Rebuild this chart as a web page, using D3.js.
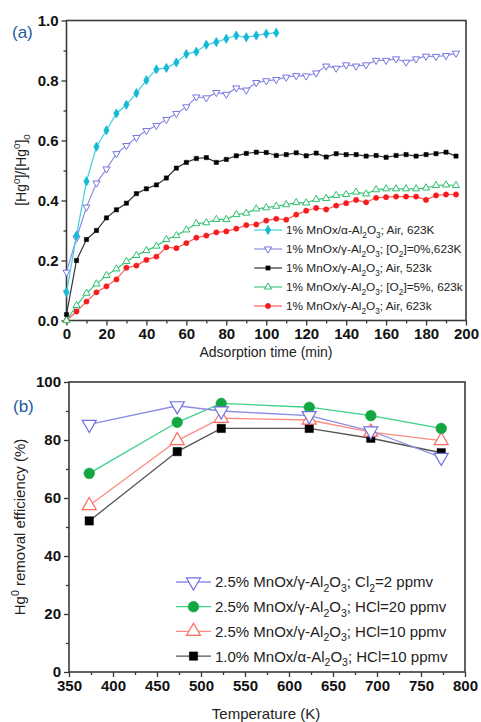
<!DOCTYPE html>
<html>
<head>
<meta charset="utf-8">
<script src="https://cdn.jsdelivr.net/npm/d3@7"></script>
<style>
  body { margin: 0; background: #fff; }
  svg text { font-family: "Liberation Sans", Arial, sans-serif; }
</style>
</head>
<body>
<div id="vis"></div>
<script>
// ---- panel (a) data : adsorption time (min) vs [Hg0]/[Hg0]0
const timeA = [0, 5, 10, 15, 20, 25, 30, 35, 40, 45, 50, 55, 60, 65, 70, 75, 80, 85, 90, 95,
  100, 105, 110, 115, 120, 125, 130, 135, 140, 145, 150, 155, 160, 165, 170, 175, 180, 185, 190, 195];
const alphaAir623 = [0.094, 0.283, 0.464, 0.579, 0.634, 0.69, 0.719, 0.758, 0.801, 0.837, 0.842, 0.86,
  0.888, 0.896, 0.919, 0.928, 0.939, 0.95, 0.944, 0.95, 0.956, 0.959];
const gammaO2zero623 = [0.161, 0.274, 0.378, 0.458, 0.505, 0.556, 0.583, 0.61, 0.633, 0.65, 0.67, 0.69,
  0.712, 0.745, 0.742, 0.76, 0.754, 0.775, 0.768, 0.793, 0.799, 0.803, 0.811, 0.816, 0.815, 0.825,
  0.848, 0.841, 0.852, 0.848, 0.852, 0.867, 0.867, 0.872, 0.861, 0.872, 0.881, 0.88, 0.883, 0.891];
const gammaAir523 = [0.02, 0.2, 0.27, 0.3, 0.342, 0.369, 0.391, 0.423, 0.439, 0.452, 0.475, 0.508,
  0.527, 0.54, 0.543, 0.527, 0.537, 0.549, 0.557, 0.561, 0.56, 0.55, 0.553, 0.559, 0.549, 0.558,
  0.545, 0.556, 0.553, 0.553, 0.548, 0.55, 0.544, 0.55, 0.553, 0.548, 0.553, 0.556, 0.561, 0.548];
const gammaO2five623 = [0.0, 0.05, 0.091, 0.122, 0.15, 0.172, 0.197, 0.217, 0.233, 0.248, 0.27, 0.283,
  0.302, 0.323, 0.326, 0.337, 0.337, 0.353, 0.358, 0.372, 0.376, 0.381, 0.386, 0.393, 0.392, 0.404,
  0.407, 0.417, 0.42, 0.428, 0.422, 0.436, 0.439, 0.439, 0.439, 0.439, 0.442, 0.45, 0.452, 0.45];
const gammaAir623 = [0.0, 0.03, 0.063, 0.094, 0.114, 0.137, 0.176, 0.183, 0.202, 0.213, 0.244, 0.241,
  0.258, 0.276, 0.283, 0.294, 0.297, 0.306, 0.318, 0.32, 0.333, 0.339, 0.336, 0.353, 0.366, 0.375,
  0.37, 0.383, 0.391, 0.402, 0.394, 0.409, 0.411, 0.413, 0.413, 0.413, 0.402, 0.417, 0.42, 0.42];

// ---- panel (b) data : temperature (K) vs removal efficiency (%)
const tempB = [373, 473, 523, 623, 693, 773];
const cl2Gamma25 = [85.4, 91.8, 90.0, 88.4, 83.1, 74.0];
const hcl20Gamma25 = [68.5, 86.1, 92.6, 91.3, 88.4, 84.0];
const hcl10Gamma25 = [57.4, 79.8, 87.5, 86.9, 82.7, 79.8];
const hcl10Alpha10 = [52.1, 76.0, 84.0, 84.0, 80.6, 75.6];

const ticksAx = [0, 20, 40, 60, 80, 100, 120, 140, 160, 180, 200];
const ticksAy = [0.0, 0.2, 0.4, 0.6, 0.8, 1.0];
const ticksBx = [350, 400, 450, 500, 550, 600, 650, 700, 750, 800];
const ticksBy = [0, 20, 40, 60, 80, 100];

// legend labels: [text, 'sub' | 'sup' | '']
const legendA = [
  [['1% MnOx/α-Al', ''], ['2', 'sub'], ['O', ''], ['3', 'sub'], ['; Air, 623K', '']],
  [['1% MnOx/γ-Al', ''], ['2', 'sub'], ['O', ''], ['3', 'sub'], ['; [O', ''], ['2', 'sub'], [']=0%,623K', '']],
  [['1% MnOx/γ-Al', ''], ['2', 'sub'], ['O', ''], ['3', 'sub'], ['; Air, 523k', '']],
  [['1% MnOx/γ-Al', ''], ['2', 'sub'], ['O', ''], ['3', 'sub'], ['; [O', ''], ['2', 'sub'], [']=5%, 623k', '']],
  [['1% MnOx/γ-Al', ''], ['2', 'sub'], ['O', ''], ['3', 'sub'], ['; Air, 623k', '']]
];
const legendB = [
  [['2.5% MnOx/γ-Al', ''], ['2', 'sub'], ['O', ''], ['3', 'sub'], ['; Cl', ''], ['2', 'sub'], ['=2 ppmv', '']],
  [['2.5% MnOx/γ-Al', ''], ['2', 'sub'], ['O', ''], ['3', 'sub'], ['; HCl=20 ppmv', '']],
  [['2.5% MnOx/γ-Al', ''], ['2', 'sub'], ['O', ''], ['3', 'sub'], ['; HCl=10 ppmv', '']],
  [['1.0% MnOx/α-Al', ''], ['2', 'sub'], ['O', ''], ['3', 'sub'], ['; HCl=10 ppmv', '']]
];

const svg = d3.select('#vis').append('svg')
  .attr('width', 481).attr('height', 722);

// text with sub/superscripts, each segment shifted relative to the previous one
function richText(sel, segs, size) {
  let shift = 0;
  segs.forEach(([t, kind]) => {
    const target = kind === 'sub' ? size * 0.3 : kind === 'sup' ? -size * 0.4 : 0;
    const ts = sel.append('tspan').text(t)
      .style('font-size', (kind ? size * 0.7 : size) + 'px');
    if (target !== shift) ts.attr('dy', target - shift);
    shift = target;
  });
}

function styleTicks(g) {
  g.select('.domain').remove();
  g.selectAll('.tick line').attr('stroke', '#333').attr('stroke-width', 1.3);
  g.selectAll('.tick text')
    .style('font-family', '"Liberation Sans", Arial, sans-serif')
    .style('font-size', '15px').style('font-weight', 'bold').attr('fill', '#111');
}

function drawAxes(x, y, xt, yt, xMinor, yMinor, fmt) {
  const [x0, x1] = x.range(), [y0, y1] = y.range();
  svg.append('g').attr('transform', `translate(0,${y0})`)
    .call(d3.axisBottom(x).tickValues(xMinor).tickSize(3).tickFormat(''))
    .call(styleTicks);
  svg.append('g').attr('transform', `translate(0,${y0})`)
    .call(d3.axisBottom(x).tickValues(xt).tickSize(5).tickPadding(3))
    .call(styleTicks);
  svg.append('g').attr('transform', `translate(${x0},0)`)
    .call(d3.axisLeft(y).tickValues(yMinor).tickSize(3).tickFormat(''))
    .call(styleTicks);
  svg.append('g').attr('transform', `translate(${x0},0)`)
    .call(d3.axisLeft(y).tickValues(yt).tickSize(5).tickPadding(3).tickFormat(fmt))
    .call(styleTicks);
  svg.append('rect')
    .attr('x', x0).attr('y', y1).attr('width', x1 - x0).attr('height', y0 - y1)
    .attr('fill', 'none').attr('stroke', '#3a3a3a').attr('stroke-width', 1.6);
}

function drawSeries(x, y, xs, ys, s) {
  const pts = ys.map((v, i) => [xs[i], v]);
  svg.append('path')
    .datum(pts)
    .attr('fill', 'none').attr('stroke', s.line).attr('stroke-width', s.lw)
    .attr('d', d3.line().x(d => x(d[0])).y(d => y(d[1])));
  svg.selectAll(null)
    .data(pts)
    .join('path')
    .attr('transform', d => `translate(${x(d[0])},${y(d[1])})` + (s.rot ? ' rotate(180)' : ''))
    .attr('d', d3.symbol().type(s.sym).size(s.size))
    .attr('fill', s.fill).attr('stroke', s.stroke).attr('stroke-width', s.sw);
}

function drawLegendRow(lx, ly, len, s, label, fs) {
  svg.append('line')
    .attr('x1', lx).attr('x2', lx + len).attr('y1', ly).attr('y2', ly)
    .attr('stroke', s.line).attr('stroke-width', s.lw);
  svg.append('path')
    .attr('transform', `translate(${lx + len / 2},${ly})` + (s.rot ? ' rotate(180)' : ''))
    .attr('d', d3.symbol().type(s.sym).size(s.size))
    .attr('fill', s.fill).attr('stroke', s.stroke).attr('stroke-width', s.sw);
  const t = svg.append('text')
    .attr('x', lx + len + 4).attr('y', ly + fs * 0.36)
    .attr('fill', '#222');
  richText(t, label, fs);
}

// ================= panel (a)
const xA = d3.scaleLinear().domain([0, 200]).range([66.5, 466]);
const yA = d3.scaleLinear().domain([0, 1]).range([320.5, 20.5]);
drawAxes(xA, yA, ticksAx, ticksAy, d3.range(10, 200, 20), [0.1, 0.3, 0.5, 0.7, 0.9], d3.format('.1f'));

const styleA = [
  {line: '#3fd0e0', lw: 1.2, sym: d3.symbolDiamond, size: 24, fill: '#14b9d6', stroke: '#14b9d6', sw: 0.8},
  {line: '#8c8ce6', lw: 1.2, sym: d3.symbolTriangle, rot: true, size: 22, fill: '#fff', stroke: '#7575e0', sw: 1},
  {line: '#333', lw: 1.2, sym: d3.symbolSquare, size: 18, fill: '#000', stroke: '#000', sw: 0.5},
  {line: '#3cc97c', lw: 1.2, sym: d3.symbolTriangle, size: 22, fill: '#fff', stroke: '#2fbf6e', sw: 1},
  {line: '#ff5a5a', lw: 1.2, sym: d3.symbolCircle, size: 22, fill: '#f51d1d', stroke: '#f51d1d', sw: 0.5}
];
const seriesA = [alphaAir623, gammaO2zero623, gammaAir523, gammaO2five623, gammaAir623];
// draw in reverse so the top curves sit over the lower ones
[4, 3, 2, 1, 0].forEach(i => drawSeries(xA, yA, timeA, seriesA[i], styleA[i]));

legendA.forEach((lab, i) => drawLegendRow(254, 230 + i * 19, 28, styleA[i], lab, 11.8));

svg.append('text').attr('x', 12).attr('y', 38)
  .style('font-size', '17px').attr('fill', '#1f5aa0').text('(a)');
svg.append('text').attr('x', 266).attr('y', 357)
  .attr('text-anchor', 'middle').style('font-size', '14px').attr('fill', '#222')
  .text('Adsorption time (min)');
const yTitleA = svg.append('text')
  .attr('transform', 'translate(26,170) rotate(-90)')
  .attr('text-anchor', 'middle').attr('fill', '#222');
richText(yTitleA, [['[Hg', ''], ['0', 'sup'], [']/[Hg', ''], ['0', 'sup'], [']', ''], ['0', 'sub']], 14);

// ================= panel (b)
const xB = d3.scaleLinear().domain([350, 800]).range([69, 465]);
const yB = d3.scaleLinear().domain([0, 100]).range([672, 382]);
drawAxes(xB, yB, ticksBx, ticksBy, d3.range(375, 800, 50), d3.range(10, 100, 20), d3.format('d'));

const styleB = [
  {line: '#8c8ce6', lw: 1.3, sym: d3.symbolTriangle, rot: true, size: 85, fill: '#fff', stroke: '#6f6fe0', sw: 1.2},
  {line: '#3cd08a', lw: 1.3, sym: d3.symbolCircle, size: 90, fill: '#14a640', stroke: '#14a640', sw: 0.5},
  {line: '#ff8a80', lw: 1.3, sym: d3.symbolTriangle, size: 85, fill: '#fff', stroke: '#ff6a60', sw: 1.2},
  {line: '#555', lw: 1.3, sym: d3.symbolSquare, size: 70, fill: '#000', stroke: '#000', sw: 0.5}
];
const seriesB = [cl2Gamma25, hcl20Gamma25, hcl10Gamma25, hcl10Alpha10];
[3, 2, 1, 0].forEach(i => drawSeries(xB, yB, tempB, seriesB[i], styleB[i]));

legendB.forEach((lab, i) => drawLegendRow(176, 582 + i * 24.7, 35, styleB[i], lab, 15));

svg.append('text').attr('x', 13).attr('y', 412)
  .style('font-size', '17px').attr('fill', '#1f5aa0').text('(b)');
svg.append('text').attr('x', 266).attr('y', 719)
  .attr('text-anchor', 'middle').style('font-size', '15px').attr('fill', '#222')
  .text('Temperature (K)');
const yTitleB = svg.append('text')
  .attr('transform', 'translate(25,527) rotate(-90)')
  .attr('text-anchor', 'middle').attr('fill', '#222');
richText(yTitleB, [['Hg', ''], ['0', 'sup'], [' removal efficiency (%)', '']], 15);
</script>
</body>
</html>
